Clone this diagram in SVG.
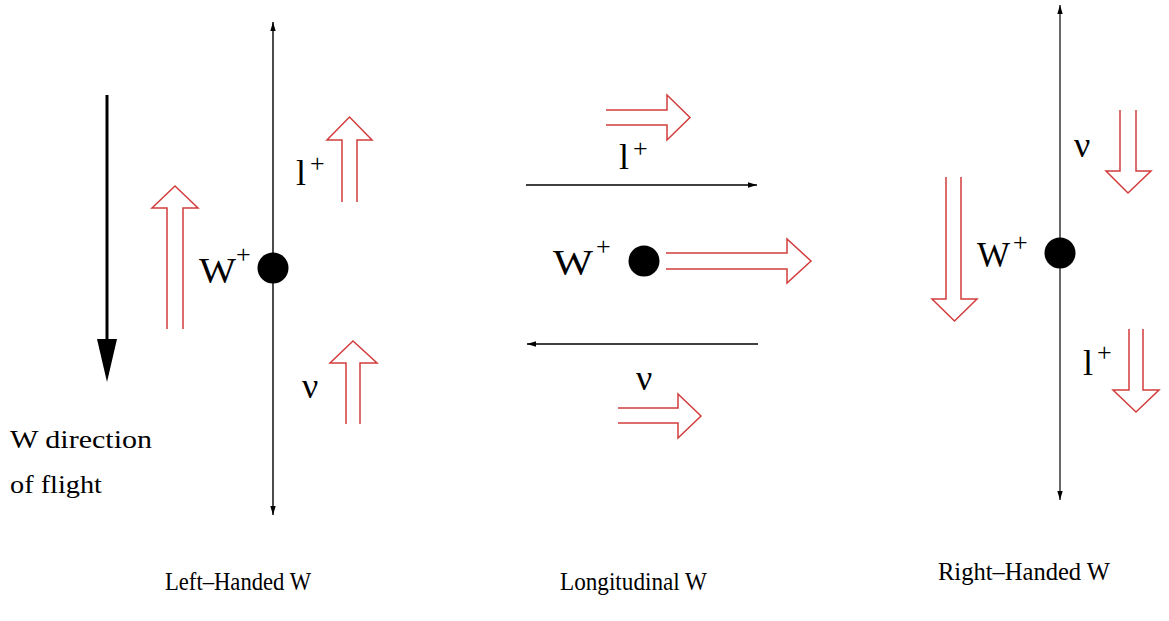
<svg xmlns="http://www.w3.org/2000/svg" width="1169" height="621" viewBox="0 0 1169 621">
<style>
.ax{stroke:#000;stroke-width:1.4;fill:none}
.ax2{stroke:#444;stroke-width:1.6;fill:none}
.ha{stroke:#d23c3c;stroke-width:1.5;fill:none;stroke-linejoin:miter}
.t{font-family:"Liberation Serif","Times New Roman",serif;fill:#000}
.big{font-size:36px}
.sup{font-size:26px}
.lab{font-size:26px}
</style>
<defs>
<marker id="ah" viewBox="0 0 10 6" refX="10" refY="3" markerWidth="9" markerHeight="6" markerUnits="userSpaceOnUse" orient="auto-start-reverse">
<path d="M0,0 L10,3 L0,6 z" fill="#000"/>
</marker>
</defs>
<rect width="1169" height="621" fill="#fff"/>

<g id="connectors">
<line class="ax" x1="273" y1="22" x2="273" y2="515" marker-start="url(#ah)" marker-end="url(#ah)"/>
<line class="ax" x1="526" y1="185" x2="757" y2="185" marker-end="url(#ah)"/>
<line class="ax" x1="758" y1="344" x2="527" y2="344" marker-end="url(#ah)"/>
<line class="ax2" x1="1060" y1="5" x2="1060" y2="500" marker-start="url(#ah)" marker-end="url(#ah)"/>
<line x1="107" y1="95" x2="107" y2="340" stroke="#000" stroke-width="3"/>
<polygon points="97,339 117,339 107,382" fill="#000"/>
</g>

<g id="flight-label">
<text class="t" x="10" y="448" font-size="25" textLength="142" lengthAdjust="spacingAndGlyphs">W direction</text>
<text class="t" x="10" y="493" font-size="25" textLength="92" lengthAdjust="spacingAndGlyphs">of flight</text>
</g>

<g id="left-handed">
<circle cx="273" cy="268" r="15.5" fill="#000"/>
<text class="t big" x="199" y="283" textLength="37" lengthAdjust="spacingAndGlyphs">W</text>
<text class="t sup" x="236" y="263">+</text>
<path class="ha" d="M167,329 L167,208 L152,208 L175,186 L198,208 L183,208 L183,329"/>
<path class="ha" d="M342,202 L342,140 L327,140 L349.5,117 L372,140 L357,140 L357,202"/>
<path class="ha" d="M346,424 L346,363 L330,363 L353,341 L377,363 L360,363 L360,424"/>
<text class="t big" x="296" y="185">l</text>
<text class="t sup" x="310" y="172">+</text>
<text class="t big" x="302" y="398">ν</text>
<text class="t lab" x="165" y="590" textLength="146" lengthAdjust="spacingAndGlyphs">Left–Handed W</text>
</g>

<g id="longitudinal">
<circle cx="644" cy="261" r="15.5" fill="#000"/>
<text class="t big" x="553" y="275" textLength="40" lengthAdjust="spacingAndGlyphs">W</text>
<text class="t sup" x="596" y="255">+</text>
<path class="ha" d="M606,110 L667,110 L667,95 L690,117.5 L667,140 L667,125 L606,125"/>
<path class="ha" d="M666,253 L787,253 L787,239 L811,261 L787,283 L787,269 L666,269"/>
<path class="ha" d="M618,408 L678,408 L678,394 L701,416 L678,438 L678,423 L618,423"/>
<text class="t big" x="619" y="169">l</text>
<text class="t sup" x="633" y="157">+</text>
<text class="t big" x="636" y="390">ν</text>
<text class="t lab" x="560" y="590" textLength="147" lengthAdjust="spacingAndGlyphs">Longitudinal W</text>
</g>

<g id="right-handed">
<circle cx="1060" cy="253" r="15.5" fill="#000"/>
<text class="t big" x="977" y="267" textLength="33" lengthAdjust="spacingAndGlyphs">W</text>
<text class="t sup" x="1013" y="251">+</text>
<path class="ha" d="M946,177 L946,299 L932,299 L954.5,321 L977,299 L961,299 L961,177"/>
<path class="ha" d="M1120,110 L1120,171 L1106,171 L1128,193 L1151,171 L1136,171 L1136,110"/>
<path class="ha" d="M1129,329 L1129,390 L1113,390 L1136,412 L1159,390 L1143,390 L1143,329"/>
<text class="t big" x="1074" y="157">ν</text>
<text class="t big" x="1083" y="375">l</text>
<text class="t sup" x="1097" y="361">+</text>
<text class="t lab" x="938" y="580" textLength="172" lengthAdjust="spacingAndGlyphs">Right–Handed W</text>
</g>
</svg>
